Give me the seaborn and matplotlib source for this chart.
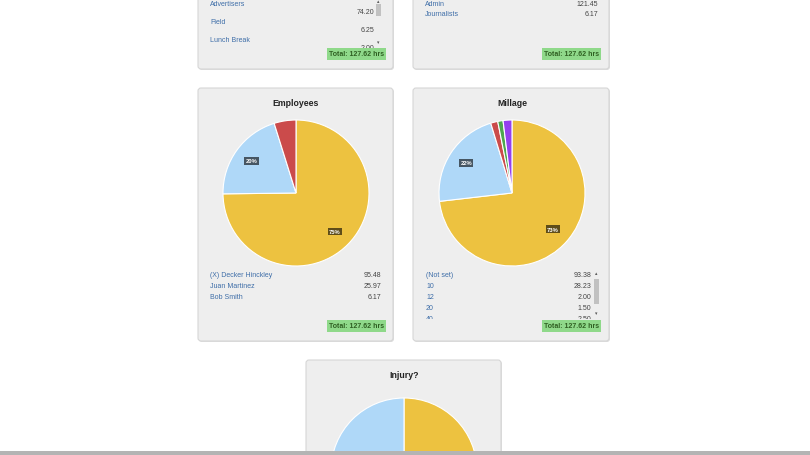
import matplotlib
matplotlib.use("Agg")
import matplotlib.pyplot as plt
import seaborn as sns
from matplotlib.patches import FancyBboxPatch, Rectangle

task_names = ["Advertisers", "Field", "Lunch Break"]
task_hours = [74.20, 6.25, 2.00]
dept_names = ["Admin", "Journalists"]
dept_hours = [121.45, 6.17]
emp_names = ["(X) Decker Hinckley", "Juan Martinez", "Bob Smith"]
emp_hours = [95.48, 25.97, 6.17]
mil_names = ["(Not set)", "10", "12", "20", "40"]
mil_hours = [93.38, 28.23, 2.00, 1.50, 2.50]
injury_names = ["No", "Yes"]
injury_hours = [63.81, 63.81]
total_label = "Total: 127.62 hrs"

W, H = 810, 456
sns.set_theme(style="white")
plt.rcParams['font.family'] = ['Liberation Sans', 'DejaVu Sans']
flot = sns.color_palette(["#edc240", "#afd8f8", "#cb4b4b", "#4da74d", "#9440ed"])
link = "#3e6ea8"

fig = plt.figure(figsize=(W / 100, H / 100), dpi=100)
bg = fig.add_axes([0, 0, 1, 1])
bg.set_xlim(0, W)
bg.set_ylim(H, 0)
bg.axis("off")


def panel(x0, y0, x1, y1):
    bg.add_patch(FancyBboxPatch((x0 + 1, y0 + 1), x1 - x0, y1 - y0, boxstyle="round,pad=0,rounding_size=3",
                                fc="#dddddd", ec="none", zorder=1))
    bg.add_patch(FancyBboxPatch((x0, y0), x1 - x0, y1 - y0, boxstyle="round,pad=0,rounding_size=3",
                                fc="#eeeeee", ec="#d6d6d6", lw=0.8, zorder=2))


def total_box(xr, y):
    bg.text(xr, y, total_label, ha="right", va="center", fontsize=5, fontweight="bold", color="#2f5f22",
            zorder=7, bbox=dict(boxstyle="square,pad=0.3", fc="#8fd98a", ec="none"))


def legend(x_name, x_val, ys, names, vals, dy_val=0):
    for y, n, v in zip(ys, names, vals):
        bg.text(x_name, y, n, ha="left", va="center", fontsize=5, color=link, zorder=4)
        bg.text(x_val, y + dy_val, f"{v:.2f}", ha="right", va="center", fontsize=5, color="#444444", zorder=4)


def scrollbar(x, y0, y1, t0, t1):
    bg.text(x, y0, "\u25b4", ha="center", va="center", fontsize=3.5, color="#555555", zorder=6)
    bg.text(x, y1, "\u25be", ha="center", va="center", fontsize=3.5, color="#555555", zorder=6)
    bg.add_patch(Rectangle((x - 2.5, t0), 5, t1 - t0, fc="#c1c1c1", ec="none", zorder=6))


def pie(cx, cy, vals, title_y=None, title=None, r=73, labels=True):
    ax = fig.add_axes([(cx - r) / W, 1 - (cy + r) / H, 2 * r / W, 2 * r / H])
    wedges, texts, autotexts = ax.pie(vals, colors=flot[:len(vals)], startangle=90, counterclock=False,
                                      radius=1, pctdistance=0.75,
                                      autopct=lambda p: f"{p:.0f}%" if (p >= 10 and labels) else "",
                                      wedgeprops=dict(edgecolor="#ffffff", linewidth=0.8),
                                      textprops=dict(fontsize=4.2, color="white", fontweight="bold"))
    ax.set_xlim(-1, 1)
    ax.set_ylim(-1, 1)
    ax.axis("off")
    for t in autotexts:
        if t.get_text():
            t.set_bbox(dict(boxstyle="square,pad=0.25", fc="black", alpha=0.6, ec="none"))
    if title:
        bg.text(cx, title_y, title, ha="center", va="center", fontsize=6.3, fontweight="bold",
                color="#222222", zorder=4)
    return ax


# top-left panel (scrolled partly out of view)
panel(198, -10, 393, 70)
legend(210, 374, [4, 22, 41], task_names, task_hours, dy_val=8)
bg.add_patch(Rectangle((200, 48.5), 178, 4, fc="#eeeeee", ec="none", zorder=5))
scrollbar(378, 2, 43, 5, 17)
total_box(384, 55)

# top-right panel
panel(413, -10, 609, 70)
legend(425, 598, [4, 15], dept_names, dept_hours)
total_box(599, 55)

# Employees
panel(198, 89, 393, 342)
pie(296, 194, emp_hours, 104, "Employees")
legend(210, 381, [276, 287, 298], emp_names, emp_hours)
total_box(384, 327)

# Millage
panel(413, 89, 609, 342)
pie(512, 194, mil_hours, 104, "Millage")
legend(426, 591, [276, 287, 298, 309, 320], mil_names, mil_hours)
bg.add_patch(Rectangle((415, 319.5), 178, 4, fc="#eeeeee", ec="none", zorder=5))
scrollbar(596, 274, 314, 280, 305)
total_box(599, 327)

# Injury?
panel(306, 361, 501, 480)
bg.text(404, 376, "Injury?", ha="center", va="center", fontsize=6.3, fontweight="bold", color="#222222", zorder=4)
pie(404, 472, injury_hours, labels=False)

# browser bottom edge
bar = fig.add_axes([0, 0, 1, 4.5 / H])
bar.axis("off")
bar.add_patch(Rectangle((0, 0), 1, 1, transform=bar.transAxes, fc="#b4b4b4", ec="none"))

fig.savefig("out.png", dpi=100)
